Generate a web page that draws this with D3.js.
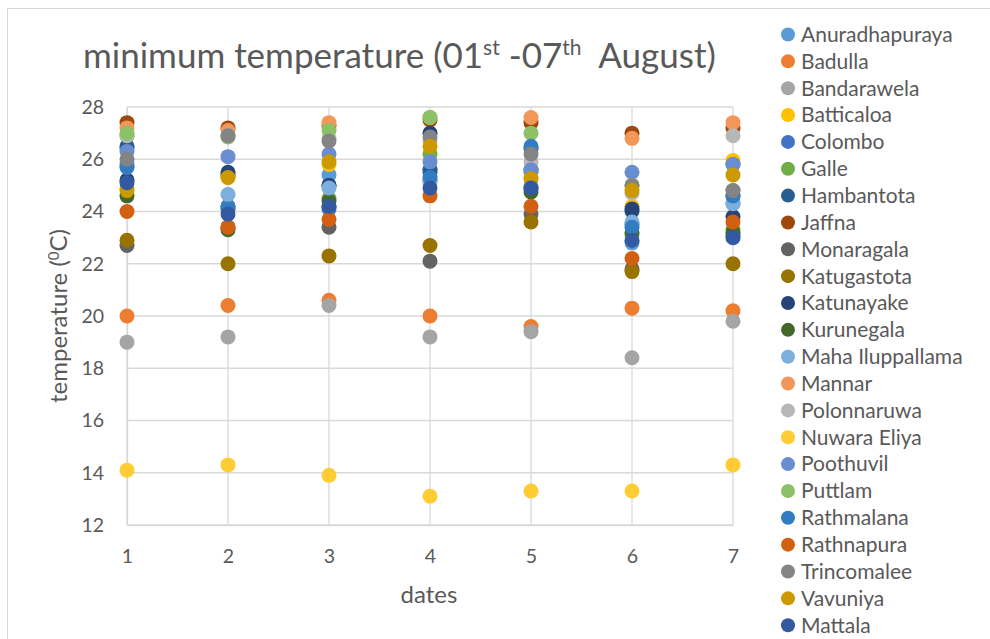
<!DOCTYPE html>
<html><head><meta charset="utf-8">
<script src="https://cdn.jsdelivr.net/npm/d3@7"></script>
<style>
body{margin:0;background:#fff;}
text{font-family:Lato,"Open Sans",sans-serif;fill:#595959;}
</style>
</head><body>
<svg id="c" width="990" height="639"></svg>
<script>
const dates = [1, 2, 3, 4, 5, 6, 7];
const yTicks = [12, 14, 16, 18, 20, 22, 24, 26, 28];
const stations = ["Anuradhapuraya","Badulla","Bandarawela","Batticaloa","Colombo","Galle","Hambantota","Jaffna","Monaragala","Katugastota","Katunayake","Kurunegala","Maha Iluppallama","Mannar","Polonnaruwa","Nuwara Eliya","Poothuvil","Puttlam","Rathmalana","Rathnapura","Trincomalee","Vavuniya","Mattala"];
const colors = ["#5B9BD5","#ED7D31","#A5A5A5","#FFC000","#4472C4","#70AD47","#255E91","#9E480E","#636363","#997300","#264478","#43682B","#7CAFDD","#F1975A","#B7B7B7","#FFCD33","#698ED0","#8CC168","#327DC2","#D26012","#848484","#CC9A00","#335AA1"];

const anuradhapuraya = [25.8, 24.2, 25.4, 25.6, 25.5, 22.8, 24.3];
const badulla        = [20.0, 20.4, 20.6, 20.0, 19.6, 20.3, 20.2];
const bandarawela    = [19.0, 19.2, 20.4, 19.2, 19.4, 18.4, 19.8];
const batticaloa     = [24.9, 25.3, 25.8, 26.2, 25.3, 24.2, 25.95];
const colombo        = [26.4, 24.2, 24.2, 25.5, 25.6, 23.5, 25.8];
const galle          = [26.9, 24.1, 24.5, 26.2, 25.6, 23.1, 23.3];
const hambantota     = [26.5, 25.4, 25.0, 25.6, 26.4, 24.0, 24.6];
const jaffna         = [27.4, 27.2, 27.3, 27.5, 27.4, 27.0, 27.2];
const monaragala     = [22.7, 23.4, 23.4, 22.1, 23.9, 21.8, 23.1];
const katugastota    = [22.9, 22.0, 22.3, 22.7, 23.6, 21.7, 22.0];
const katunayake     = [25.2, 25.5, 25.0, 27.0, 24.9, 24.1, 23.8];
const kurunegala     = [24.6, 23.3, 24.4, 25.2, 24.75, 23.2, 23.2];
const mahaIluppallama= [25.7, 24.65, 24.9, 25.1, 25.0, 23.6, 24.3];
const mannar         = [27.2, 27.1, 27.4, 27.6, 27.6, 26.8, 27.4];
const polonnaruwa    = [26.9, 26.9, 26.8, 26.7, 25.9, 24.7, 26.9];
const nuwaraEliya    = [14.1, 14.3, 13.9, 13.1, 13.3, 13.3, 14.3];
const poothuvil      = [26.3, 26.1, 26.2, 25.9, 25.6, 25.5, 25.8];
const puttlam        = [27.0, 26.85, 27.1, 27.6, 27.0, 25.0, 24.8];
const rathmalana     = [25.7, 24.1, 24.1, 25.3, 26.5, 23.4, 24.6];
const rathnapura     = [24.0, 23.4, 23.7, 24.6, 24.2, 22.2, 23.6];
const trincomalee    = [26.0, 26.9, 26.7, 26.85, 26.2, 25.0, 24.8];
const vavuniya       = [24.8, 25.3, 25.9, 26.5, 25.25, 24.8, 25.4];
const mattala        = [25.1, 23.9, 24.2, 24.9, 24.9, 22.9, 23.0];

const seriesValues = [anuradhapuraya,badulla,bandarawela,batticaloa,colombo,galle,hambantota,jaffna,monaragala,katugastota,katunayake,kurunegala,mahaIluppallama,mannar,polonnaruwa,nuwaraEliya,poothuvil,puttlam,rathmalana,rathnapura,trincomalee,vavuniya,mattala];
const series = stations.map((s,i)=>({name:s,color:colors[i],values:seriesValues[i]}));

const svg = d3.select("#c");
svg.append("rect").attr("x",7.5).attr("y",8.5).attr("width",990).attr("height",640)
  .attr("fill","#fff").attr("stroke","#D9D9D9");

const x = d3.scaleLinear().domain([1,7]).range([127,733]);
const y = d3.scaleLinear().domain([12,28]).range([525,107]);

// gridlines
const g = svg.append("g");
g.selectAll("line.h").data(yTicks).join("line")
  .attr("x1",x(1)).attr("x2",x(7)).attr("y1",d=>y(d)).attr("y2",d=>y(d))
  .attr("stroke","#D9D9D9").attr("stroke-width",1.3);
g.selectAll("line.v").data(dates).join("line")
  .attr("y1",y(12)).attr("y2",y(28)).attr("x1",d=>x(d)).attr("x2",d=>x(d))
  .attr("stroke","#D9D9D9").attr("stroke-width",1.3);

// axes (labels only)
const xAxis = svg.append("g").attr("transform",`translate(0,${y(12)})`)
  .call(d3.axisBottom(x).tickValues(dates).tickSize(0).tickPadding(24).tickFormat(d3.format("d")));
const yAxis = svg.append("g").attr("transform",`translate(${x(1)},0)`)
  .call(d3.axisLeft(y).tickValues(yTicks).tickSize(0).tickPadding(23).tickFormat(d3.format("d")));
[xAxis,yAxis].forEach(a=>{
  a.select(".domain").attr("stroke","#D9D9D9").attr("stroke-width",1.3);
  a.selectAll("text").attr("font-size",19.5).attr("font-family","Lato").attr("fill","#595959");
});

// points
series.forEach(s=>{
  svg.append("g").selectAll("circle").data(s.values.map((v,i)=>({d:dates[i],v}))).join("circle")
    .attr("cx",p=>x(p.d)).attr("cy",p=>y(p.v)).attr("r",7.5).attr("fill",s.color);
});

// title
const t = svg.append("text").attr("x",83).attr("y",68).attr("font-size",35);
t.append("tspan").text("minimum temperature (01");
t.append("tspan").text("st").attr("font-size",21).attr("baseline-shift","60%");
t.append("tspan").text(" -07");
t.append("tspan").text("th").attr("font-size",21).attr("baseline-shift","60%");
t.append("tspan").text("\u00a0 August)");

// axis titles
const yt = svg.append("text").attr("transform","translate(67,316) rotate(-90)")
  .attr("text-anchor","middle").attr("font-size",24);
yt.append("tspan").text("temperature (");
yt.append("tspan").text("0").attr("font-size",15).attr("baseline-shift","55%");
yt.append("tspan").text("C)");
svg.append("text").attr("x",429).attr("y",603).attr("text-anchor","middle").attr("font-size",24).text("dates");

// legend
const lg = svg.append("g").selectAll("g").data(series).join("g")
  .attr("transform",(d,i)=>`translate(788,${34.5+i*26.85})`);
lg.append("circle").attr("r",7).attr("fill",d=>d.color);
lg.append("text").attr("x",13).attr("dy","0.35em").attr("font-size",21).text(d=>d.name);
</script>
</body></html>
